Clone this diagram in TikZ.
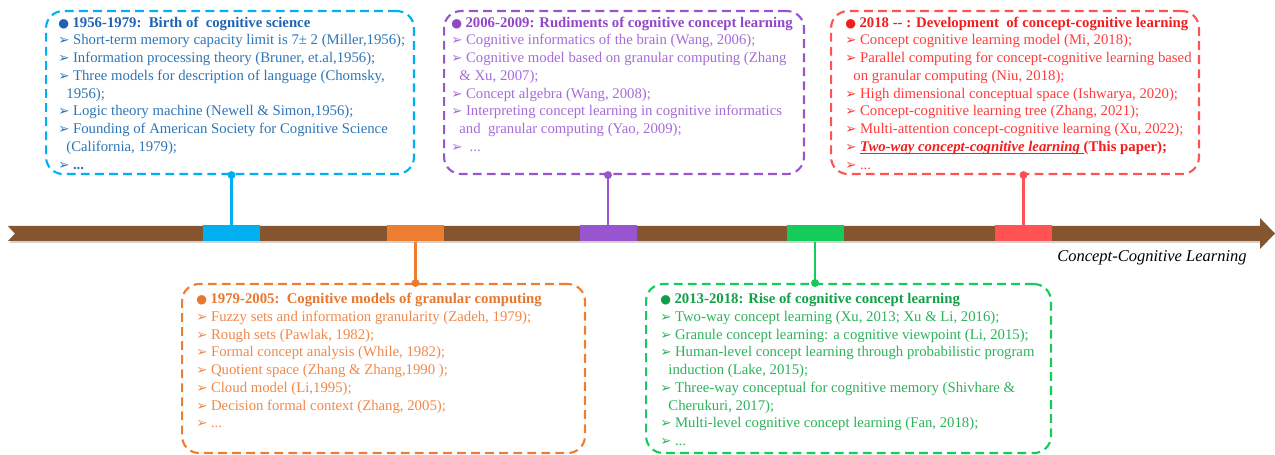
\documentclass[tikz,border=0pt]{standalone}
\usepackage{fontspec}
\setmainfont{Liberation Serif}
\newfontfamily\symfont{DejaVu Sans}
\usepackage{xcolor}
\usepackage{tikz}
\usetikzlibrary{arrows.meta, positioning, shapes.geometric}

\definecolor{barbrown}{HTML}{84552F}
\definecolor{cyanmark}{HTML}{00B0F0}
\definecolor{bluetext}{HTML}{2E75B6}
\definecolor{bluehead}{HTML}{1F63B2}
\definecolor{purplemark}{HTML}{9955D0}
\definecolor{purpletext}{HTML}{A66BD8}
\definecolor{purplehead}{HTML}{9147C8}
\definecolor{redmark}{HTML}{FF5353}
\definecolor{redtext}{HTML}{FF3B3B}
\definecolor{redhead}{HTML}{F01E1E}
\definecolor{orangemark}{HTML}{ED7D31}
\definecolor{orangetext}{HTML}{F0884A}
\definecolor{orangehead}{HTML}{E8772E}
\definecolor{greenmark}{HTML}{14CC5A}
\definecolor{greentext}{HTML}{2DB25A}
\definecolor{greenhead}{HTML}{12A046}

% list helpers
\newcommand{\itm}{{\symfont\fontsize{7.6}{7.6}\selectfont ➢}\hspace{2pt}}
\newcommand{\hd}[1]{{\symfont\fontsize{7}{7}\selectfont ●}\hspace{2pt}\textbf{#1}}
\newcommand{\cont}{\hspace*{4.6pt}}
\newcommand{\redline}[1]{\setbox0\hbox{#1}\rlap{\textcolor{redhead}{\rule[-1.6pt]{\wd0}{0.7pt}}}\box0}

\begin{document}
\begin{tikzpicture}[
        x=0.02cm, y=-0.02cm, % pixel grid, y pointing down
        every node/.style={font=\fontsize{8.4}{10.1}\selectfont},
        era/.style={draw, line width=1.2pt, dash pattern=on 5pt off 3pt,
            rounded corners=0.34cm, anchor=north west, inner sep=0pt},
        eratext/.style={align=left, inner sep=0pt},
        yearmark/.style={rectangle, inner sep=0pt, minimum width=1.14cm, minimum height=0.32cm},
        stem/.style={line width=1.6pt},
        dot/.style={circle, fill, inner sep=0pt, minimum size=0.16cm}
    ]
        \useasboundingbox (0,0) rectangle (1275,455);

        % Timeline bar
        \fill[gray!35] (9,228) -- (1260,228) -- (1260,243) -- (9,243) -- (16,235.5) -- cycle;
        \fill[barbrown] (8,226) -- (1260,226) -- (1260,218) -- (1275,233.5)
            -- (1260,249) -- (1260,241) -- (8,241) -- (15,233.5) -- cycle;
        \node[font=\fontsize{9.4}{11}\selectfont\itshape] (lbl) at (1152,258) {Concept-Cognitive Learning};

        % Year marks
        \node[yearmark, fill=cyanmark] (m1) at (231.5,233.5) {};
        \node[yearmark, fill=orangemark] (m4) at (415.5,233.5) {};
        \node[yearmark, fill=purplemark] (m2) at (608,233.5) {};
        \node[yearmark, fill=greenmark] (m5) at (815,233.5) {};
        \node[yearmark, fill=redmark] (m3) at (1023.5,233.5) {};

        % Boxes above the bar
        \node[era, draw=cyanmark, minimum width=7.36cm, minimum height=3.26cm] (b1) at (45,10) {};
        \node[eratext, text=bluetext, below right=0.13cm and 0.26cm of b1.north west] (t1) {
            \textcolor{bluehead}{\hd{1956-1979:\ \ Birth of\ \ cognitive science}}\\
            \itm Short-term memory capacity limit is 7± 2 (Miller,1956);\\
            \itm Information processing theory (Bruner, et.al,1956);\\
            \itm Three models for description of language (Chomsky,\\
            \cont 1956);\\
            \itm Logic theory machine (Newell \& Simon,1956);\\
            \itm Founding of American Society for Cognitive Science\\
            \cont (California, 1979);\\
            \itm \textbf{...}};

        \node[era, draw=purplemark, minimum width=7.2cm, minimum height=3.26cm] (b2) at (443,10) {};
        \node[eratext, text=purpletext, below right=0.13cm and 0.16cm of b2.north west] (t2) {
            \textcolor{purplehead}{\hd{2006-2009: Rudiments of cognitive concept learning}}\\
            \itm Cognitive informatics of the brain (Wang, 2006);\\
            \itm Cognitive model based on granular computing (Zhang\\
            \cont \& Xu, 2007);\\
            \itm Concept algebra (Wang, 2008);\\
            \itm Interpreting concept learning in cognitive informatics\\
            \cont and\ \ granular computing (Yao, 2009);\\
            \itm\ ...};

        \node[era, draw=redmark, minimum width=7.36cm, minimum height=3.26cm] (b3) at (830,10) {};
        \node[eratext, text=redtext, below right=0.13cm and 0.3cm of b3.north west] (t3) {
            \textcolor{redhead}{\hd{2018 -{}- : Development\ \ of concept-cognitive learning}}\\
            \itm Concept cognitive learning model (Mi, 2018);\\
            \itm Parallel computing for concept-cognitive learning based\\
            \cont on granular computing (Niu, 2018);\\
            \itm High dimensional conceptual space (Ishwarya, 2020);\\
            \itm Concept-cognitive learning tree (Zhang, 2021);\\
            \itm Multi-attention concept-cognitive learning (Xu, 2022);\\
            \itm \textcolor{redhead}{\textbf{\redline{\textit{Two-way concept-cognitive learning}~}(This paper);}}\\
            \itm ...};

        % Boxes below the bar
        \node[era, draw=orangemark, minimum width=8.06cm, minimum height=3.38cm] (b4) at (181,283) {};
        \node[eratext, text=orangetext, below right=0.2cm and 0.3cm of b4.north west] (t4) {
            \textcolor{orangehead}{\hd{1979-2005:\ \ Cognitive models of granular computing}}\\
            \itm Fuzzy sets and information granularity (Zadeh, 1979);\\
            \itm Rough sets (Pawlak, 1982);\\
            \itm Formal concept analysis (While, 1982);\\
            \itm Quotient space (Zhang \& Zhang,1990 );\\
            \itm Cloud model (Li,1995);\\
            \itm Decision formal context (Zhang, 2005);\\
            \itm ...};

        \node[era, draw=greenmark, minimum width=8.1cm, minimum height=3.38cm] (b5) at (645,283) {};
        \node[eratext, text=greentext, below right=0.2cm and 0.3cm of b5.north west] (t5) {
            \textcolor{greenhead}{\hd{2013-2018: Rise of cognitive concept learning}}\\
            \itm Two-way concept learning (Xu, 2013; Xu \& Li, 2016);\\
            \itm Granule concept learning: a cognitive viewpoint (Li, 2015);\\
            \itm Human-level concept learning through probabilistic program\\
            \cont induction (Lake, 2015);\\
            \itm Three-way conceptual for cognitive memory (Shivhare \&\\
            \cont Cherukuri, 2017);\\
            \itm Multi-level cognitive concept learning (Fan, 2018);\\
            \itm ...};

        % Stems from marks to boxes
        \draw[stem, cyanmark] (m1.north) -- (m1.north |- b1.south) node[dot, name=d1] {};
        \draw[stem, purplemark] (m2.north) -- (m2.north |- b2.south) node[dot, name=d2] {};
        \draw[stem, redmark] (m3.north) -- (m3.north |- b3.south) node[dot, name=d3] {};
        \draw[stem, orangemark] (m4.south) -- (m4.south |- b4.north) node[dot, name=d4] {};
        \draw[stem, greenmark] (m5.south) -- (m5.south |- b5.north) node[dot, name=d5] {};

    \end{tikzpicture}
\end{document}
